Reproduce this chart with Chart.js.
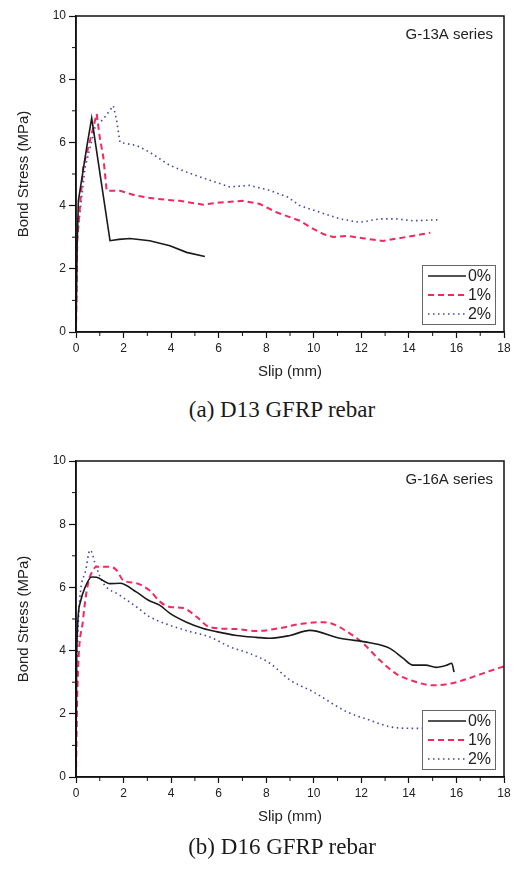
<!DOCTYPE html>
<html>
<head>
<meta charset="utf-8">
<script src="https://cdn.jsdelivr.net/npm/chart.js@4.4.1/dist/chart.umd.min.js"></script>
<style>
  body { margin: 0; background: #fff; width: 517px; height: 871px; position: relative; overflow: hidden; }
  canvas { position: absolute; left: 0; }
  .caption { position: absolute; left: 0; width: 564px; text-align: center; font-family: "Liberation Serif", "Times New Roman", serif; font-size: 23px; line-height: 26px; color: #1a1a1a; }
</style>
</head>
<body>
<canvas id="chartA" width="517" height="390" style="top:0px"></canvas>
<div class="caption" style="top:397px">(a) D13 GFRP rebar</div>
<canvas id="chartB" width="517" height="390" style="top:445px"></canvas>
<div class="caption" style="top:834px">(b) D16 GFRP rebar</div>
<script>
// series labels
var seriesLabels = ["0%", "1%", "2%"];
var xTicks = [0, 2, 4, 6, 8, 10, 12, 14, 16, 18];
var yTicks = [0, 2, 4, 6, 8, 10];

// (a) G-13A series
var slipA0 = [0, 0.05, 0.1, 0.45, 0.66, 1.43, 1.8, 2.27, 3.1, 3.95, 4.65, 5.42];
var stressA0 = [0, 2.8, 4.15, 5.84, 6.77, 2.89, 2.93, 2.96, 2.89, 2.73, 2.52, 2.39];
var slipA1 = [0, 0.05, 0.3, 0.66, 0.87, 1.0, 1.15, 1.29, 1.85, 2.55, 3.39, 4.37, 5.35, 6.05, 7.02, 7.73, 8.43, 9.41, 9.96, 10.4, 10.8, 11.4, 12.06, 12.9, 13.6, 14.6, 14.9];
var stressA1 = [0, 2.9, 5.2, 6.27, 6.9, 6.16, 5.53, 4.47, 4.47, 4.31, 4.21, 4.15, 4.03, 4.1, 4.15, 4.05, 3.79, 3.52, 3.27, 3.1, 3.01, 3.04, 2.97, 2.88, 2.97, 3.1, 3.14];
var slipA2 = [0, 0.05, 0.38, 0.8, 1.15, 1.57, 1.71, 1.85, 2.55, 3.1, 3.95, 4.65, 5.63, 6.47, 7.3, 8.15, 8.9, 9.41, 10.25, 11.1, 11.93, 12.77, 13.47, 14.17, 15.2];
var stressA2 = [0, 3.0, 5.2, 6.47, 6.74, 7.16, 6.69, 6.0, 5.9, 5.69, 5.27, 5.06, 4.8, 4.59, 4.64, 4.48, 4.27, 4.0, 3.79, 3.58, 3.47, 3.58, 3.58, 3.52, 3.55];

// (b) G-16A series
var slipB0 = [0, 0.03, 0.17, 0.38, 0.66, 0.87, 1.43, 1.85, 2.55, 3.03, 3.53, 3.95, 4.65, 5.35, 5.9, 6.75, 7.59, 8.15, 9.0, 9.83, 11.1, 12.35, 13.2, 13.75, 14.17, 14.7, 15.15, 15.6, 15.8, 15.9];
var stressB0 = [0, 3.9, 5.5, 6.0, 6.33, 6.32, 6.12, 6.13, 5.85, 5.6, 5.43, 5.18, 4.9, 4.7, 4.6, 4.48, 4.42, 4.39, 4.48, 4.64, 4.39, 4.25, 4.07, 3.76, 3.54, 3.54, 3.47, 3.54, 3.6, 3.32];
var slipB1 = [0, 0.05, 0.3, 0.5, 0.72, 0.87, 1.43, 1.7, 1.98, 2.55, 3.1, 3.53, 3.95, 4.5, 5.07, 5.63, 6.75, 7.59, 8.57, 9.41, 10.4, 10.8, 11.4, 12.06, 12.77, 13.5, 14.17, 15.0, 15.84, 16.7, 17.5, 18];
var stressB1 = [0, 2.5, 5.0, 6.1, 6.55, 6.65, 6.65, 6.55, 6.23, 6.13, 5.9, 5.55, 5.38, 5.35, 5.07, 4.74, 4.68, 4.62, 4.71, 4.84, 4.9, 4.84, 4.6, 4.24, 3.7, 3.25, 3.04, 2.9, 2.97, 3.17, 3.38, 3.5];
var slipB2 = [0, 0.03, 0.38, 0.59, 0.66, 0.8, 1.15, 1.85, 2.55, 3.1, 3.95, 4.8, 5.63, 6.47, 7.3, 8.15, 9.0, 9.96, 11.4, 12.35, 13.2, 14.17, 14.6];
var stressB2 = [0, 3.5, 6.45, 7.18, 7.12, 6.76, 6.13, 5.75, 5.38, 5.07, 4.8, 4.6, 4.43, 4.12, 3.91, 3.6, 3.07, 2.7, 2.06, 1.8, 1.59, 1.54, 1.54];

var FONT = '"Liberation Sans", Arial, sans-serif';

function points(xs, ys) {
  return xs.map(function (x, i) { return { x: x, y: ys[i] }; });
}

function makeDatasets(s0, y0, s1, y1, s2, y2) {
  return [
    { label: seriesLabels[0], data: points(s0, y0), borderColor: "#1a1a1a", borderWidth: 1.6, borderDash: [] },
    { label: seriesLabels[1], data: points(s1, y1), borderColor: "#f2295f", borderWidth: 2, borderDash: [6, 4] },
    { label: seriesLabels[2], data: points(s2, y2), borderColor: "#4343b0", borderWidth: 1.6, borderDash: [1.5, 3.5] }
  ];
}

// frame, minor ticks, legend box and series note
var paperPlugin = {
  id: "paper",
  afterDatasetsDraw: function (chart) {
    var ctx = chart.ctx, a = chart.chartArea;
    var xs = chart.scales.x, ys = chart.scales.y;
    ctx.save();
    ctx.strokeStyle = "#111";
    ctx.lineWidth = 1.5;
    ctx.strokeRect(a.left, a.top, a.right - a.left, a.bottom - a.top);

    // minor ticks on odd values
    ctx.lineWidth = 1;
    for (var v = 1; v < 18; v += 2) {
      var px = xs.getPixelForValue(v);
      ctx.beginPath(); ctx.moveTo(px, a.bottom); ctx.lineTo(px, a.bottom + 4); ctx.stroke();
    }
    for (var w = 1; w < 10; w += 2) {
      var py = ys.getPixelForValue(w);
      ctx.beginPath(); ctx.moveTo(a.left, py); ctx.lineTo(a.left - 4, py); ctx.stroke();
    }

    // series note
    var note = chart.options.plugins.paper.note;
    ctx.fillStyle = "#222";
    ctx.font = "15px " + FONT;
    ctx.textAlign = "right";
    ctx.textBaseline = "middle";
    ctx.fillText(note, a.right - 11, a.top + 19);

    // legend
    var bw = 73, bh = 59;
    var bx = a.right - 9 - bw, by = a.bottom - 8 - bh;
    ctx.fillStyle = "#fff";
    ctx.fillRect(bx, by, bw, bh);
    ctx.strokeStyle = "#666";
    ctx.lineWidth = 1;
    ctx.strokeRect(bx + 0.5, by + 0.5, bw, bh);
    ctx.font = "16px " + FONT;
    chart.data.datasets.forEach(function (ds, i) {
      var ry = by + 11 + i * 19;
      ctx.strokeStyle = ds.borderColor;
      ctx.lineWidth = ds.borderWidth;
      ctx.setLineDash(ds.borderDash);
      ctx.beginPath(); ctx.moveTo(bx + 6, ry); ctx.lineTo(bx + 44, ry); ctx.stroke();
      ctx.setLineDash([]);
      ctx.fillStyle = "#222";
      ctx.fillText(ds.label, bx + bw - 4, ry + 1);
    });
    ctx.restore();
  }
};

function makeChart(id, note, datasets, curve) {
  return new Chart(document.getElementById(id).getContext("2d"), {
    type: "line",
    data: { datasets: datasets },
    plugins: [paperPlugin],
    options: {
      responsive: false,
      animation: false,
      layout: { padding: { top: 16, right: 13, left: 0, bottom: 0 } },
      elements: {
        point: { radius: 0 },
        line: { cubicInterpolationMode: curve, tension: 0, borderCapStyle: "butt" }
      },
      plugins: {
        legend: { display: false },
        tooltip: { enabled: false },
        paper: { note: note }
      },
      scales: {
        x: {
          type: "linear",
          min: 0, max: 18,
          afterBuildTicks: function (s) { s.ticks = xTicks.map(function (v) { return { value: v }; }); },
          afterFit: function (s) { s.height = 58; },
          ticks: { color: "#222", padding: 3, font: { family: FONT, size: 12 }, maxRotation: 0, autoSkip: false },
          grid: { drawOnChartArea: false, tickLength: 6, tickColor: "#111", tickWidth: 1.2 },
          border: { display: true, color: "#111", width: 1.5 },
          title: { display: true, text: "Slip (mm)", color: "#222", font: { family: FONT, size: 15 }, padding: { top: 0, bottom: 9 } }
        },
        y: {
          min: 0, max: 10,
          afterBuildTicks: function (s) { s.ticks = yTicks.map(function (v) { return { value: v }; }); },
          afterFit: function (s) { s.width = 76; },
          ticks: { color: "#222", padding: 3, font: { family: FONT, size: 12 } },
          grid: { drawOnChartArea: false, tickLength: 7, tickColor: "#111", tickWidth: 1.2 },
          border: { display: true, color: "#111", width: 1.5 },
          title: { display: true, text: "Bond Stress (MPa)", color: "#222", font: { family: FONT, size: 15 }, padding: { top: 15, bottom: 0 } }
        }
      }
    }
  });
}

makeChart("chartA", "G-13A series", makeDatasets(slipA0, stressA0, slipA1, stressA1, slipA2, stressA2), "default");
makeChart("chartB", "G-16A series", makeDatasets(slipB0, stressB0, slipB1, stressB1, slipB2, stressB2), "monotone");
</script>
</body>
</html>
